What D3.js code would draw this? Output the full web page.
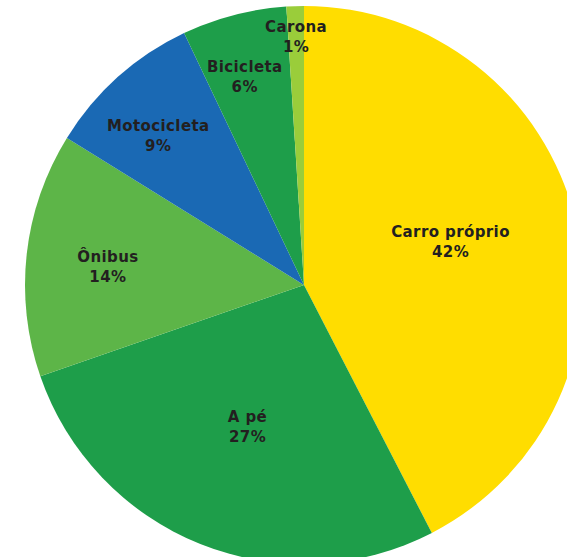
<!DOCTYPE html>
<html>
<head>
<meta charset="utf-8">
<script src="https://cdn.jsdelivr.net/npm/d3@7"></script>
<style>
  body { margin: 0; background: #fff; }
  #chart { width: 567px; height: 557px; }
</style>
</head>
<body>
<div id="chart"></div>
<script>
const categories = ["Carro próprio", "A pé", "Ônibus", "Motocicleta", "Bicicleta", "Carona"];
const values = [42, 27, 14, 9, 6, 1];
const percentLabels = ["42%", "27%", "14%", "9%", "6%", "1%"];

const width = 567, height = 557;
const cx = 304, cy = 285, radius = 279;
const colors = ["#FFDD00", "#1E9E4A", "#5DB548", "#1A69B4", "#1E9E4A", "#9ACD3A"];
// label placement: distance from centre and angle nudge (degrees)
const labelRadius = [153, 152, 197, 209, 217, 249];
const labelNudge = [-3.1, 0, -0.9, -2.4, -1.3, 0];

const svg = d3.select("#chart")
    .append("svg")
    .attr("width", width)
    .attr("height", height)
    .append("g")
    .attr("transform", `translate(${cx},${cy})`);

const pie = d3.pie().sort(null).value(d => d);
const arcs = pie(values);

const arc = d3.arc().innerRadius(0).outerRadius(radius);

svg.selectAll(".slice")
    .data(arcs)
    .enter().append("path")
    .attr("class", "slice")
    .attr("fill", (d, i) => colors[i])
    .attr("d", arc);

const labels = svg.selectAll(".label")
    .data(arcs)
    .enter().append("text")
    .attr("class", "label")
    .attr("transform", (d, i) => {
        const a = (d.startAngle + d.endAngle) / 2 + labelNudge[i] * Math.PI / 180;
        const x = labelRadius[i] * Math.sin(a);
        const y = -labelRadius[i] * Math.cos(a);
        return `translate(${x},${y})`;
    })
    .attr("text-anchor", "middle")
    .attr("font-family", "'DejaVu Sans', sans-serif")
    .attr("font-weight", "bold")
    .attr("font-size", "15px")
    .attr("letter-spacing", "0.4px")
    .attr("fill", "#231F20");

labels.append("tspan")
    .attr("x", 0)
    .attr("y", -4)
    .text((d, i) => categories[i]);

labels.append("tspan")
    .attr("x", 0)
    .attr("y", 16)
    .text((d, i) => percentLabels[i]);
</script>
</body>
</html>
